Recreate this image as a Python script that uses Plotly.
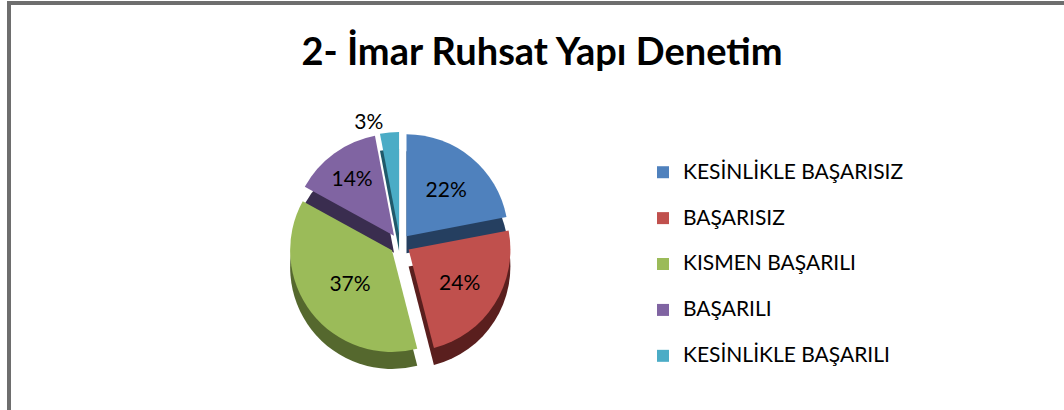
import plotly.graph_objects as go

categories = ["KESİNLİKLE BAŞARISIZ", "BAŞARISIZ", "KISMEN BAŞARILI", "BAŞARILI", "KESİNLİKLE BAŞARILI"]
values = [22, 24, 37, 14, 3]
top_colors = ["#4F81BD", "#C0504D", "#9BBB59", "#8064A2", "#4BACC6"]
side_colors = ["#253F60", "#5A1F1E", "#55682E", "#3A2D4F", "#20596A"]
title_text = "2- İmar Ruhsat Yapı Denetim"

W, H = 1064, 410
cx, cy = 400, 244       # pie centre (px)
size = 224              # pie domain size (px)
depth = 17              # 3D depth (px)
pulls = [0.1] * len(values)

def dom(cx, cy):
    return dict(x=[(cx - size / 2) / W, (cx + size / 2) / W],
                y=[1 - (cy + size / 2) / H, 1 - (cy - size / 2) / H])

legend_labels = ["<span style='font-size:21px'>" + c + "</span><br> " for c in categories]

fig = go.Figure()
# depth layer
fig.add_trace(go.Pie(
    labels=legend_labels, values=values, sort=False, direction="clockwise", rotation=0,
    pull=pulls, domain=dom(cx, cy + depth), textinfo="none", hoverinfo="skip",
    marker=dict(colors=side_colors, line=dict(width=0)), showlegend=False,
))
# top layer
fig.add_trace(go.Pie(
    labels=legend_labels, values=values, sort=False, direction="clockwise", rotation=0,
    pull=pulls, domain=dom(cx, cy), textinfo="percent",
    textposition=["inside", "inside", "inside", "inside", "outside"],
    insidetextorientation="horizontal",
    textfont=dict(family="Lato", size=21, color="#000000"),
    outsidetextfont=dict(family="Lato", size=21, color="#000000"),
    marker=dict(colors=top_colors, line=dict(width=0)),
    hovertext=categories, hoverinfo="text+percent",
))

fig.update_layout(
    width=W, height=H,
    margin=dict(l=0, r=0, t=0, b=0),
    paper_bgcolor="white", plot_bgcolor="white",
    title=dict(text="<b>" + title_text + "</b>", x=542 / W, xanchor="center",
               y=1 - 52 / H, yanchor="middle",
               font=dict(family="Lato", size=38, color="#000000")),
    legend=dict(x=643 / W, xanchor="left", y=1 - 155 / H, yanchor="top",
                valign="top", font=dict(family="Lato", size=16.5, color="#000000"),
                bgcolor="rgba(0,0,0,0)", traceorder="normal"),
    shapes=[
        dict(type="rect", xref="paper", yref="paper", x0=7 / W, x1=11 / W, y0=0, y1=1 - 1 / H,
             fillcolor="#6E6E6E", line=dict(width=0)),
        dict(type="rect", xref="paper", yref="paper", x0=7 / W, x1=1, y0=1 - 5 / H, y1=1 - 1 / H,
             fillcolor="#6E6E6E", line=dict(width=0)),
    ],
)

fig.write_html("out.html")
